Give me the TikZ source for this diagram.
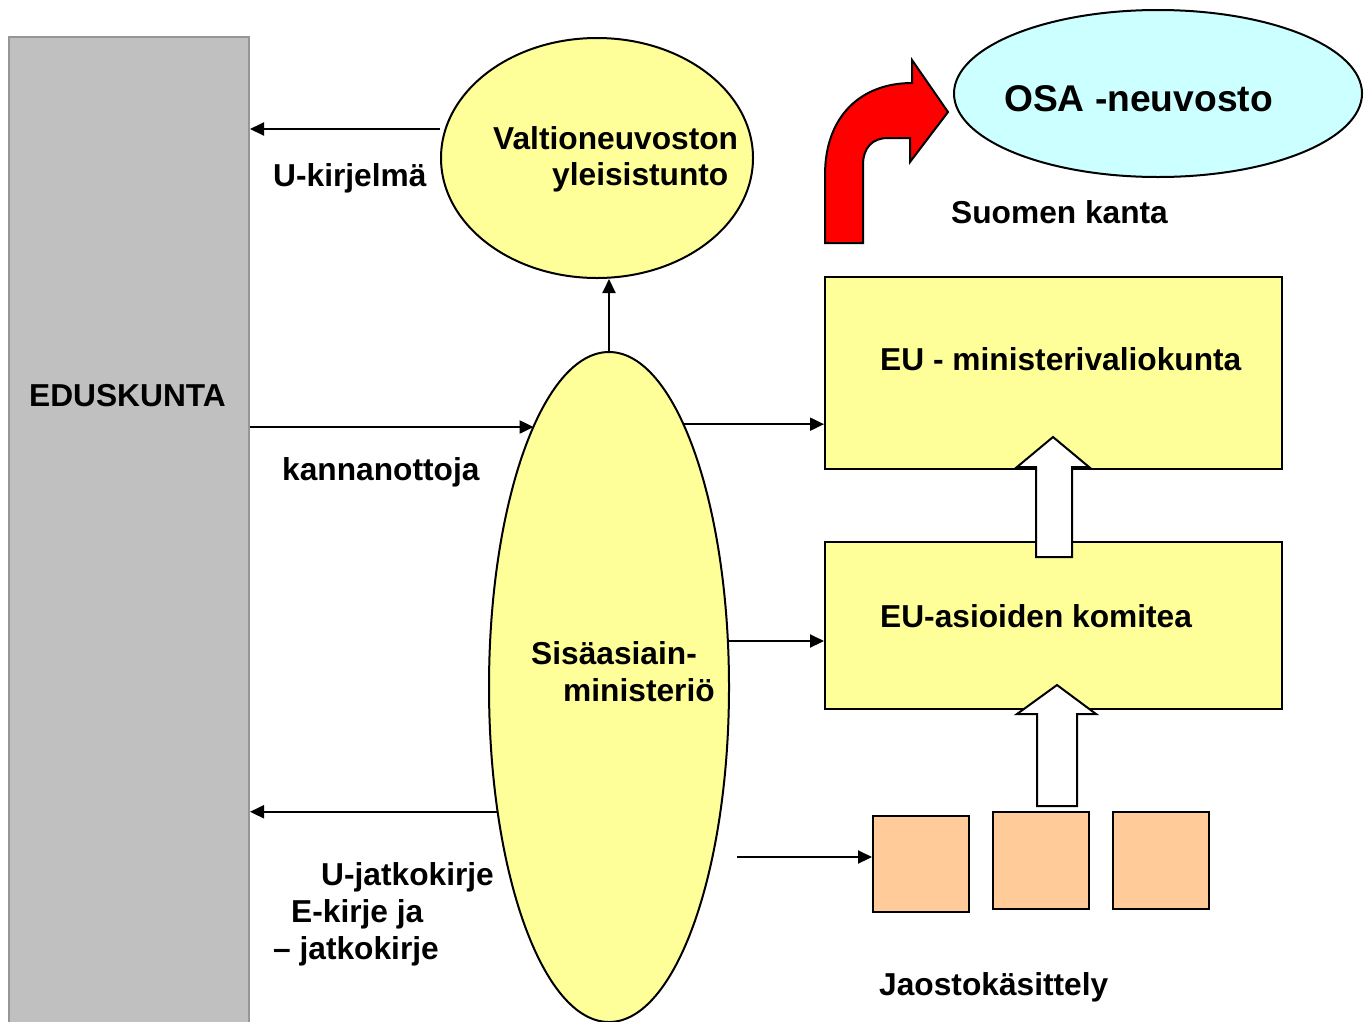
\documentclass[tikz,border=0pt]{standalone}
\usepackage{fontspec}
\setmainfont{Liberation Sans}
\usetikzlibrary{shapes.geometric,arrows.meta}
\definecolor{lyellow}{HTML}{FFFF99}
\definecolor{lcyan}{HTML}{CCFFFF}
\definecolor{lorange}{HTML}{FFCC99}
\definecolor{lgray}{HTML}{C0C0C0}
\definecolor{dgray}{HTML}{969696}
\tikzset{
  lbl/.style={inner sep=0pt, anchor=base west, font=\fontsize{31.7}{36}\selectfont\bfseries},
  arr/.style={line width=2pt, -{Triangle[length=14pt,width=13pt]}},
  yell/.style={ellipse, draw, line width=2pt, fill=lyellow, inner sep=0pt},
  ybox/.style={rectangle, draw, line width=2pt, fill=lyellow, inner sep=0pt},
  obox/.style={rectangle, draw, line width=2pt, fill=lorange, inner sep=0pt},
  blockarrow/.style={draw, line width=2pt, fill=white, line join=miter}
}
\begin{document}
\begin{tikzpicture}[x=1pt,y=-1pt]
\useasboundingbox (0,0) rectangle (1372,1021);
% EDUSKUNTA
\node[rectangle, draw=dgray, line width=2pt, fill=lgray, minimum width=240pt, minimum height=1000pt, inner sep=0pt] (edus) at (129,537) {};
\node[inner sep=0pt, font=\fontsize{31.7}{36}\selectfont\bfseries] (edust) at (127.5,396) {EDUSKUNTA};
% Ellipses
\node[yell, minimum width=312pt, minimum height=240pt] (valt) at (597,158) {};
\node[yell, minimum width=240pt, minimum height=670pt] (sisa) at (609,687) {};
\node[ellipse, draw, line width=2pt, fill=lcyan, inner sep=0pt, minimum width=408pt, minimum height=167pt] (osa) at (1158,93.5) {};
% Boxes
\node[ybox, minimum width=457pt, minimum height=192pt] (mini) at (1053.5,373) {};
\node[ybox, minimum width=457pt, minimum height=167pt] (komi) at (1053.5,625.5) {};
\node[obox, minimum width=96pt, minimum height=96pt] (sq1) at (921,864) {};
\node[obox, minimum width=96pt, minimum height=97pt] (sq2) at (1041,860.5) {};
\node[obox, minimum width=96pt, minimum height=97pt] (sq3) at (1161,860.5) {};
% Block arrows
\draw[blockarrow] (1036,557) -- (1036,467) -- (1017,467) -- (1053,437) -- (1089,467) -- (1072,467) -- (1072,557) -- cycle;
\draw[blockarrow] (1037,806) -- (1037,714) -- (1017,714) -- (1057,685) -- (1096,714) -- (1077,714) -- (1077,806) -- cycle;
% Red arrow
\draw[line width=2pt, fill=red, line join=miter] (825,243) -- (825,175)
  .. controls (825,115) and (862,83) .. (912,83) -- (912,60) -- (948,112) -- (910,162) -- (910,138) -- (888,138)
  .. controls (872,138) and (863,148) .. (863,165) -- (863,243) -- cycle;
% Texts
\node[lbl] (t1) at (493,149) {Valtioneuvoston};
\node[lbl] (t2) at (552,185) {yleisistunto};
\node[lbl, font=\fontsize{37.2}{42}\selectfont\bfseries] (t3) at (1004,111) {OSA -neuvosto};
\node[lbl] (t4) at (273,186) {U-kirjelmä};
\node[lbl] (t5) at (951,223) {Suomen kanta};
\node[lbl] (t6) at (880,370) {EU - ministerivaliokunta};
\node[lbl] (t7) at (282,480) {kannanottoja};
\node[lbl] (t8) at (880,627) {EU-asioiden komitea};
\node[lbl] (t9) at (531,664) {Sisäasiain-};
\node[lbl] (t10) at (563,701) {ministeriö};
\node[lbl] (t11) at (321,885) {U-jatkokirje};
\node[lbl] (t12) at (291,922) {E-kirje ja};
\node[lbl] (t13) at (273,959) {– jatkokirje};
\node[lbl] (t14) at (879,995) {Jaostokäsittely};
% Connectors
\draw[arr] (valt.west |- 0,129) -- (edus.east |- 0,129);
\draw[arr] (edus.east |- 0,427) -- (sisa.106.3 |- 0,427);
\draw[arr] (sisa.north) -- (sisa.north |- valt.south);
\draw[arr] (sisa.74.5) -- (mini.west |- sisa.74.5);
\draw[arr] (sisa.21.4) -- (komi.west |- sisa.21.4);
\draw[arr] (sisa.228) -- (edus.east |- sisa.228);
\coordinate (sqstart) at (737,857);
\draw[arr] (sqstart) -- (sq1.west |- sqstart);
\end{tikzpicture}
\end{document}
